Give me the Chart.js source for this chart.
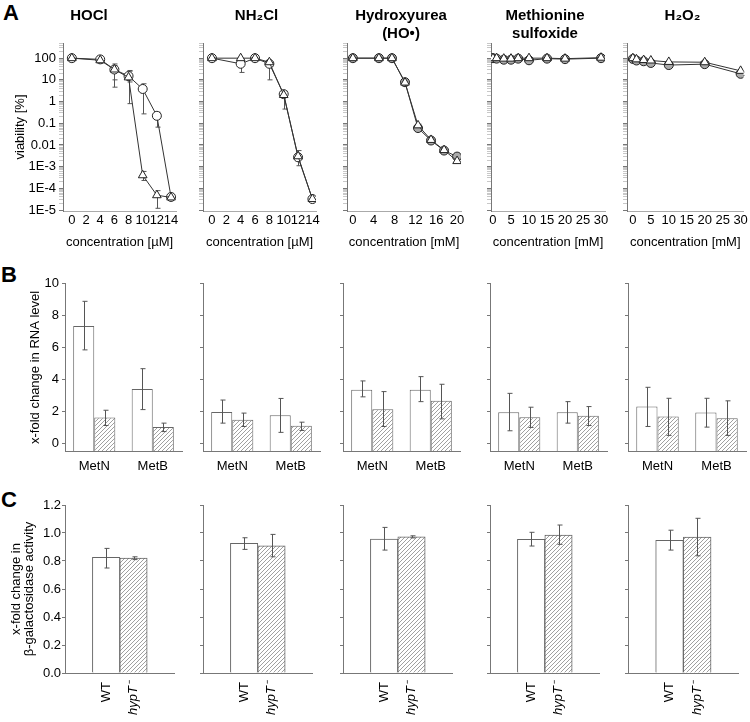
<!DOCTYPE html>
<html>
<head>
<meta charset="utf-8">
<script src="https://cdn.jsdelivr.net/npm/chart.js@4.4.1/dist/chart.umd.min.js"></script>
<style>
  body { margin: 0; background: #fff; width: 750px; height: 722px; position: relative; overflow: hidden;
         font-family: 'Liberation Sans', Arial, sans-serif; }
  canvas { position: absolute; }
  .letter { position: absolute; font-weight: bold; font-size: 22px; line-height: 22px; }
</style>
</head>
<body>
<div class="letter" style="left:3px;top:2px">A</div>
<div class="letter" style="left:1px;top:264px">B</div>
<div class="letter" style="left:1px;top:489px">C</div>
<script>
// ---- panel titles / axis text ----
const panelTitles = [['HOCl', ''], ['NH₂Cl', ''], ['Hydroxyurea', '(HO•)'], ['Methionine', 'sulfoxide'], ['H₂O₂', '']];
const concTitles = ['concentration [µM]', 'concentration [µM]', 'concentration [mM]', 'concentration [mM]', 'concentration [mM]'];

// ---- A: viability (circles = WT, triangles = hypT-) ----
const logMajor = [1e-5, 1e-4, 1e-3, 0.01, 0.1, 1, 10, 100];
const logLabels = ['1E-5', '1E-4', '1E-3', '0.01', '0.1', '1', '10', '100'];
const xTicksUM = [0, 2, 4, 6, 8, 10, 12, 14];
const xTicksHU = [0, 4, 8, 12, 16, 20];
const xTicksMM = [0, 5, 10, 15, 20, 25, 30];

const hoclConc = [0, 4, 6, 8, 10, 12, 14];
const hoclWT = [100, 88, 30, 15, 3.8, 0.22, 4e-5];
const hoclWTLo = [null, 70, 10, 8, 0.27, 0.066, null];
const hoclWTHi = [null, 110, 45, 25, 6.6, 0.32, null];
const hoclHyp = [100, 80, 30, 13, 4e-4, 4.8e-5, 3.8e-5];
const hoclHypLo = [null, 60, 4.6, 0.8, 2.3e-4, 1.2e-5, null];
const hoclHypHi = [null, 100, 54, 27, 6e-4, 7.8e-5, null];

const nh2clConc = [0, 4, 6, 8, 10, 12, 14];
const nh2clWT = [100, 55, 100, 55, 2.2, 2.7e-3, 3.2e-5];
const nh2clWTLo = [null, 22, 80, 10, 0.45, 1.1e-3, null];
const nh2clWTHi = [null, 90, 120, 70, 3, 5.5e-3, null];
const nh2clHyp = [100, 100, 100, 65, 2.0, 3e-3, 3.2e-5];

const huConc = [0, 5, 7.5, 10, 12.5, 15, 17.5, 20];
const huWT = [100, 100, 100, 7.8, 0.06, 0.016, 5.5e-3, 2.9e-3];
const huWTLo = [null, null, null, 6.5, 0.05, 0.013, 4.5e-3, 2.3e-3];
const huWTHi = [null, null, null, 9.5, 0.09, 0.02, 6.5e-3, 3.6e-3];
const huHyp = [100, 100, 100, 7.5, 0.08, 0.017, 5.8e-3, 1.8e-3];

const msoConc = [0, 1, 3, 5, 7, 10, 15, 20, 30];
const msoWT = [100, 95, 85, 85, 95, 80, 95, 90, 100];
const msoWTLo = [null, null, null, null, null, 65, 80, null, null];
const msoWTHi = [null, null, null, null, null, 100, 115, null, null];
const msoHyp = [100, 100, 95, 95, 100, 100, 100, 95, 105];

const h2o2Conc = [0, 1, 3, 5, 10, 20, 30];
const h2o2WT = [92, 78, 72, 60, 48, 53, 19];
const h2o2WTLo = [null, null, null, null, 40, 45, 16];
const h2o2WTHi = [null, null, null, null, 58, 62, 23];
const h2o2Hyp = [100, 88, 82, 78, 67, 65, 26];

// ---- B: x-fold change in RNA level, per panel [MetN, MetB] ----
const rnaGenes = ['MetN', 'MetB'];
const rnaTicks = [0, 2, 4, 6, 8, 10];
const rnaWT = [[7.35, 3.4], [1.95, 1.75], [3.35, 3.35], [1.94, 1.94], [2.29, 1.92]];
const rnaWTLo = [[5.85, 2.1], [1.25, 0.67], [2.9, 2.6], [0.77, 1.25], [1.04, 1.0]];
const rnaWTHi = [[8.9, 4.67], [2.7, 2.8], [3.9, 4.17], [3.12, 2.6], [3.5, 2.81]];
const rnaHyp = [[1.6, 1.0], [1.46, 1.08], [2.12, 2.65], [1.62, 1.71], [1.67, 1.56]];
const rnaHypLo = [[1.1, 0.72], [1.04, 0.79], [1.04, 1.52], [0.98, 1.1], [0.48, 0.48]];
const rnaHypHi = [[2.06, 1.25], [1.88, 1.31], [3.23, 3.69], [2.25, 2.29], [2.81, 2.65]];

// ---- C: x-fold change in beta-galactosidase activity ----
const strains = ['', 'WT', 'hypT⁻', ''];
const galTicks = [0, 0.2, 0.4, 0.6, 0.8, 1.0, 1.2];
const galWT = [0.826, 0.926, 0.957, 0.955, 0.948];
const galWTLo = [0.75, 0.883, 0.878, 0.907, 0.878];
const galWTHi = [0.89, 0.966, 1.04, 1.005, 1.02];
const galHyp = [0.82, 0.909, 0.973, 0.986, 0.971];
const galHypLo = [0.81, 0.83, 0.965, 0.919, 0.837];
const galHypHi = [0.83, 0.99, 0.98, 1.057, 1.105];

Chart.defaults.font.family = "'Liberation Sans', Arial, sans-serif";
Chart.defaults.font.size = 13;
Chart.defaults.color = '#000';
Chart.defaults.animation = false;
Chart.defaults.plugins.legend.display = false;
Chart.defaults.plugins.tooltip.enabled = false;

const AXIS = '#777';

// error bars drawn from dataset.lo / dataset.hi through the y scale
const errorBars = {
  id: 'errorBars',
  beforeDatasetsDraw(chart, args, opts) { if (opts.under) drawErrors(chart); },
  afterDatasetsDraw(chart, args, opts) { if (!opts.under) drawErrors(chart); }
};
function drawErrors(chart) {
  const ctx = chart.ctx, ys = chart.scales.y;
  ctx.save();
  ctx.strokeStyle = '#555';
  ctx.lineWidth = 1;
  chart.data.datasets.forEach((ds, i) => {
    if (!ds.lo) return;
    chart.getDatasetMeta(i).data.forEach((el, j) => {
      const lo = ds.lo[j], hi = ds.hi[j];
      if (lo == null || hi == null) return;
      const x = Math.round(el.x) + 0.5;
      const y1 = ys.getPixelForValue(lo), y2 = ys.getPixelForValue(hi);
      ctx.beginPath();
      ctx.moveTo(x, y1); ctx.lineTo(x, y2);
      ctx.moveTo(x - 2, y1); ctx.lineTo(x + 3, y1);
      ctx.moveTo(x - 2, y2); ctx.lineTo(x + 3, y2);
      ctx.stroke();
    });
  });
  ctx.restore();
}

function makeHatch() {
  const c = document.createElement('canvas');
  c.width = c.height = 4;
  const g = c.getContext('2d');
  g.fillStyle = '#fff';
  g.fillRect(0, 0, 4, 4);
  g.strokeStyle = '#888';
  g.lineWidth = 0.8;
  g.beginPath();
  g.moveTo(0, 4); g.lineTo(4, 0);
  g.moveTo(-1, 1); g.lineTo(1, -1);
  g.moveTo(3, 5); g.lineTo(5, 3);
  g.stroke();
  return g.createPattern(c, 'repeat');
}
const hatch = makeHatch();

function addCanvas(left, top, width, height) {
  const cv = document.createElement('canvas');
  cv.width = width; cv.height = height;
  cv.style.left = left + 'px'; cv.style.top = top + 'px';
  cv.style.width = width + 'px'; cv.style.height = height + 'px';
  document.body.appendChild(cv);
  return cv;
}

function isMajor(v) {
  const l = Math.log10(v);
  return Math.abs(l - Math.round(l)) < 1e-9;
}
const logAll = [];
logMajor.forEach(m => { for (let k = 1; k <= 9; k++) { const v = m * k; if (v <= 500) logAll.push(v); } });

function yWidth(first, w) { return s => { s.width = first ? w : 8; }; }

// ---------------- Row A ----------------
const rowA = [
  { left: 0, width: 182, axis: 63, xmin: -1.25, xmax: 14.7, ticks: xTicksUM,
    sets: [[hoclConc, hoclHyp, hoclHypLo, hoclHypHi, 'triangle', '#fff'], [hoclConc, hoclWT, hoclWTLo, hoclWTHi, 'circle', '#fff']] },
  { left: 195, width: 127, xmin: -1.25, xmax: 14.5, ticks: xTicksUM,
    sets: [[nh2clConc, nh2clHyp, null, null, 'triangle', '#fff'], [nh2clConc, nh2clWT, nh2clWTLo, nh2clWTHi, 'circle', '#fff']] },
  { left: 339, width: 128, xmin: -1.13, xmax: 20.75, ticks: xTicksHU,
    sets: [[huConc, huHyp, null, null, 'triangle', '#fff'], [huConc, huWT, huWTLo, huWTHi, 'circle', '#aaa']] },
  { left: 483, width: 128, xmin: -0.55, xmax: 31.1, ticks: xTicksMM,
    sets: [[msoConc, msoHyp, null, null, 'triangle', '#fff'], [msoConc, msoWT, msoWTLo, msoWTHi, 'circle', '#aaa']] },
  { left: 619, width: 131, xmin: -1.64, xmax: 30.8, ticks: xTicksMM,
    sets: [[h2o2Conc, h2o2Hyp, null, null, 'triangle', '#fff'], [h2o2Conc, h2o2WT, h2o2WTLo, h2o2WTHi, 'circle', '#aaa']] }
];

rowA.forEach((p, i) => {
  const first = i === 0;
  new Chart(addCanvas(p.left, 0, p.width, 252), {
    type: 'line',
    data: {
      datasets: p.sets.map(([xs, ys, lo, hi, style, fill]) => ({
        data: xs.map((x, k) => ({ x: x, y: ys[k] })),
        lo: lo, hi: hi,
        pointStyle: style,
        pointRadius: style === 'triangle' ? 5 : 4.5,
        pointBackgroundColor: fill,
        pointBorderColor: '#222',
        pointBorderWidth: 1,
        borderColor: '#333',
        borderWidth: 1,
        tension: 0
      }))
    },
    options: {
      responsive: false,
      layout: { padding: { top: 0, right: 4, bottom: 0, left: 0 } },
      plugins: {
        errorBars: { under: true },
        title: { display: true, text: panelTitles[i], color: '#000',
                 font: { size: 15, weight: 'bold', lineHeight: 1.2 }, padding: { top: 7, bottom: 0 } }
      },
      scales: {
        x: {
          type: 'linear', min: p.xmin, max: p.xmax,
          afterBuildTicks: s => { s.ticks = p.ticks.map(v => ({ value: v })); },
          afterFit: s => { s.height = 41; },
          ticks: { autoSkip: false, maxRotation: 0, padding: 2, callback: v => String(v) },
          grid: { display: false, drawTicks: false },
          border: { color: '#aaa' },
          title: { display: true, text: concTitles[i], padding: { top: 0, bottom: 2.2 } }
        },
        y: {
          type: 'logarithmic', min: 9e-6, max: 500,
          afterBuildTicks: s => { s.ticks = logAll.map(v => ({ value: v })); },
          afterFit: yWidth(first, 63),
          ticks: { autoSkip: false, padding: 3,
                   callback: v => first && isMajor(v) ? logLabels[logMajor.findIndex(m => Math.abs(m - v) / m < 1e-6)] : '' },
          grid: { drawOnChartArea: false, tickLength: 4,
                  tickColor: c => (c.tick && isMajor(c.tick.value)) ? AXIS : '#c8c8c8' },
          border: { color: AXIS },
          title: { display: first, text: 'viability [%]', padding: { top: 13, bottom: 0 } }
        }
      }
    },
    plugins: [errorBars]
  });
});

// ---------------- Rows B and C ----------------
const colB = [
  { left: 0, width: 186 },
  { left: 195, width: 129 },
  { left: 335, width: 129 },
  { left: 482, width: 129 },
  { left: 620, width: 130 }
];

colB.forEach((p, i) => {
  const first = i === 0;
  new Chart(addCanvas(p.left, 273, p.width, 202), {
    type: 'bar',
    data: {
      labels: rnaGenes,
      datasets: [
        { data: rnaWT[i], lo: rnaWTLo[i], hi: rnaWTHi[i], backgroundColor: '#fff' },
        { data: rnaHyp[i], lo: rnaHypLo[i], hi: rnaHypHi[i], backgroundColor: hatch }
      ].map(d => Object.assign(d, { borderColor: '#666', borderWidth: 1, base: -0.5,
                                     categoryPercentage: 0.72, barPercentage: 1 }))
    },
    options: {
      responsive: false,
      layout: { padding: { top: 10, right: 4, bottom: 0, left: 0 } },
      plugins: { errorBars: { under: false } },
      scales: {
        x: {
          afterFit: s => { s.height = 24; },
          ticks: { autoSkip: false, maxRotation: 0, padding: 8 },
          grid: { display: false, drawTicks: false },
          border: { color: AXIS }
        },
        y: {
          min: -0.5, max: 10,
          afterBuildTicks: s => { s.ticks = rnaTicks.map(v => ({ value: v })); },
          afterFit: yWidth(first, 65),
          ticks: { padding: 3, callback: v => first ? String(v) : '' },
          grid: { drawOnChartArea: false, tickLength: 3, tickColor: AXIS },
          border: { color: AXIS },
          title: { display: first, text: 'x-fold change in RNA level', padding: { top: 28, bottom: 0 } }
        }
      }
    },
    plugins: [errorBars]
  });

  new Chart(addCanvas(p.left, 495, p.width, 227), {
    type: 'bar',
    data: {
      labels: strains,
      datasets: [
        { data: [null, galWT[i], null, null], lo: [null, galWTLo[i], null, null], hi: [null, galWTHi[i], null, null],
          backgroundColor: '#fff' },
        { data: [null, null, galHyp[i], null], lo: [null, null, galHypLo[i], null], hi: [null, null, galHypHi[i], null],
          backgroundColor: hatch }
      ].map(d => Object.assign(d, { borderColor: '#666', borderWidth: 1, grouped: false,
                                     categoryPercentage: 1, barPercentage: 1 }))
    },
    options: {
      responsive: false,
      layout: { padding: { top: 10, right: 4, bottom: 0, left: 0 } },
      plugins: { errorBars: { under: false } },
      scales: {
        x: {
          afterFit: s => { s.height = 49; },
          ticks: { autoSkip: false, minRotation: 90, maxRotation: 90, padding: 9,
                   font: c => ({ size: 13, style: c.index === 2 ? 'italic' : 'normal' }) },
          grid: { display: false, drawTicks: false },
          border: { color: AXIS }
        },
        y: {
          min: 0, max: 1.2,
          afterBuildTicks: s => { s.ticks = galTicks.map(v => ({ value: v })); },
          afterFit: yWidth(first, 65),
          ticks: { padding: 1, callback: v => first ? v.toFixed(1) : '' },
          grid: { drawOnChartArea: false, tickLength: 3, tickColor: AXIS },
          border: { color: AXIS },
          title: { display: first, text: ['x-fold change in', 'β-galactosidase activity'],
                   font: { size: 13, lineHeight: 1 }, padding: { top: 9.5, bottom: 0 } }
        }
      }
    },
    plugins: [errorBars]
  });
});
</script>
</body>
</html>
